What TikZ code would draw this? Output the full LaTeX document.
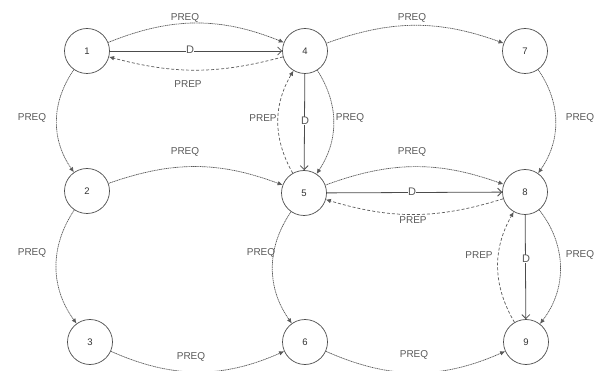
\documentclass[tikz,border=0pt]{standalone}
\usepackage{fontspec}
\setmainfont{Liberation Sans}
\usetikzlibrary{arrows.meta}
\begin{document}
\begin{tikzpicture}[x=1pt,y=-1pt,
  state/.style={circle,draw=black!70,line width=0.7pt,minimum size=45pt,inner sep=0pt,
    font=\fontsize{9.5}{11}\selectfont,text=black!80},
  req/.style={draw=black!65,line width=0.7pt,dash pattern=on 1.2pt off 0.6pt,
    -{Latex[length=5pt,width=4.5pt]}},
  rep/.style={draw=black!65,line width=0.7pt,dash pattern=on 3pt off 2pt,
    -{Latex[length=5pt,width=4.5pt]}},
  dep/.style={draw=black!70,line width=0.8pt,-{Straight Barb[length=4pt,width=8pt]}},
  lbl/.style={font=\fontsize{10}{12}\selectfont,text=black!65,inner sep=1pt},
  dlbl/.style={font=\fontsize{11}{12}\selectfont,text=black!65,fill=white,inner sep=0.4pt}
]
\useasboundingbox (0,0) rectangle (602,371);

% states
\node[state] (n1) at (87,51) {1};
\node[state] (n4) at (305,51) {4};
\node[state] (n7) at (525,51) {7};
\node[state] (n2) at (87,191) {2};
\node[state] (n5) at (304,193) {5};
\node[state] (n8) at (525,192) {8};
\node[state] (n3) at (90,342) {3};
\node[state] (n6) at (305,342) {6};
\node[state] (n9) at (526,342) {9};

% dependencies (D)
\draw[dep] (n1) -- (n4);
\draw[dep] (n4) -- (n5);
\draw[dep] (n5) -- (n8);
\draw[dep] (n8) -- (n9);
\node[dlbl] (d14) at (190,50) {D};
\node[dlbl] (d45) at (305,121) {D};
\node[dlbl] (d58) at (412,192) {D};
\node[dlbl] (d89) at (526,259) {D};

% requests (PREQ)
\draw[req] (n1) to[bend left=22] (n4);
\draw[req] (n4) to[bend left=20] (n7);
\draw[req] (n1) to[bend right=35] (n2);
\draw[req] (n2) to[bend right=35] (n3);
\draw[req] (n2) to[bend left=20] (n5);
\draw[req] (n4) to[bend left=33] (n5);
\draw[req] (n7) to[bend left=35] (n8);
\draw[req] (n5) to[bend left=20] (n8);
\draw[req] (n5) to[bend right=35] (n6);
\draw[req] (n8) to[bend left=38] (n9);
\draw[req] (n3) to[bend right=24] (n6);
\draw[req] (n6) to[bend right=24] (n9);

% replies (PREP)
\draw[rep] (n4) to[bend left=15] (n1);
\draw[rep] (n5) to[bend left=30] (n4);
\draw[rep] (n8) to[bend left=17] (n5);
\draw[rep] (n9) to[bend left=30] (n8);

% labels
\node[lbl] (q14) at (185,18) {PREQ};
\node[lbl] (p41) at (188,84) {PREP};
\node[lbl] (q47) at (412,18) {PREQ};
\node[lbl] (q12) at (32,118) {PREQ};
\node[lbl] (p54) at (263,118) {PREP};
\node[lbl] (q45) at (350,118) {PREQ};
\node[lbl] (q78) at (580,118) {PREQ};
\node[lbl] (q25) at (185,152) {PREQ};
\node[lbl] (q58) at (412,152) {PREQ};
\node[lbl] (p85) at (413,220) {PREP};
\node[lbl] (q23) at (32,253) {PREQ};
\node[lbl] (q56) at (261,253) {PREQ};
\node[lbl] (p98) at (479,255) {PREP};
\node[lbl] (q89) at (580,255) {PREQ};
\node[lbl] (q36) at (191,357) {PREQ};
\node[lbl] (q69) at (414,355) {PREQ};
\end{tikzpicture}
\end{document}
